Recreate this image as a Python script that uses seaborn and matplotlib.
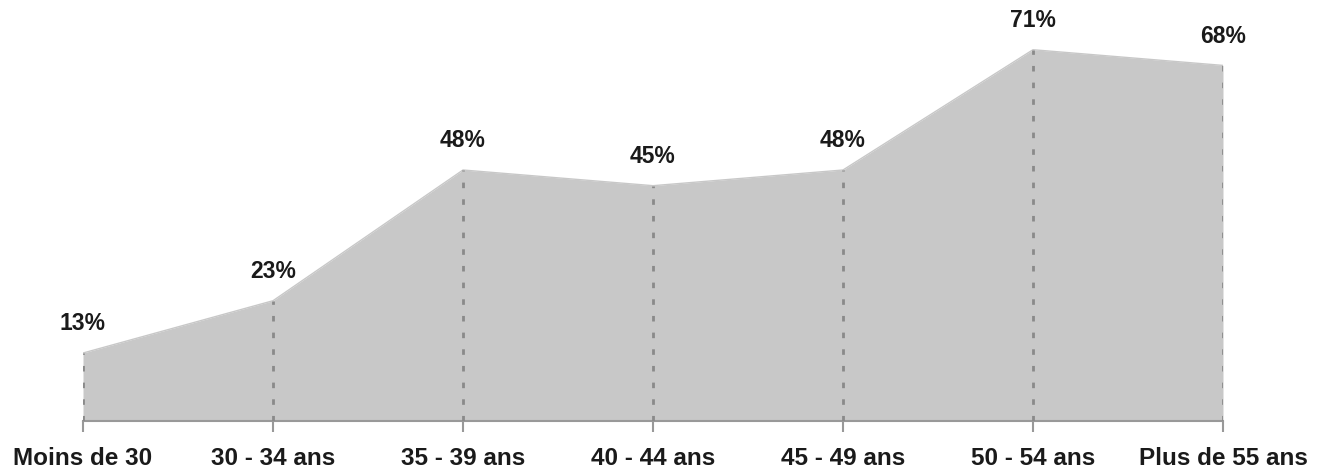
import pandas as pd
import seaborn as sns
import matplotlib.pyplot as plt

categories = ['Moins de 30', '30 - 34 ans', '35 - 39 ans', '40 - 44 ans',
              '45 - 49 ans', '50 - 54 ans', 'Plus de 55 ans']
values = [13, 23, 48, 45, 48, 71, 68]
labels = ['13%', '23%', '48%', '45%', '48%', '71%', '68%']

df = pd.DataFrame({'pos': range(len(categories)), 'val': values})

sns.set_style('white')
plt.rcParams['font.family'] = ['Liberation Sans', 'DejaVu Sans']

fig = plt.figure(figsize=(13.27, 4.77), dpi=100)
ax = fig.add_axes([83 / 1327, 55 / 477, 1140 / 1327, 422 / 477])

# zone grise
ax.fill_between(df['pos'], df['val'], 0, color='#c8c8c8', linewidth=0, zorder=1)
sns.lineplot(x='pos', y='val', data=df, color='#c8c8c8', linewidth=1, ax=ax, zorder=2)

# pointillés verticaux
ax.vlines(df['pos'], 0, df['val'], colors='#8a8a8a', linestyles=(0, (2, 4)),
          linewidth=2, zorder=3)

for x, y, t in zip(df['pos'], df['val'], labels):
    ax.text(x, y + 3.6, t, ha='center', va='bottom', fontsize=16.5,
            fontweight='bold', color='#1a1a1a')

ax.set_xlim(0, len(categories) - 1)
ax.set_ylim(0, 80.7)
ax.set_xticks(df['pos'])
ax.set_xticklabels(categories, fontsize=17.5, fontweight='bold', color='#1a1a1a')
ax.set_yticks([])
ax.set_xlabel('')
ax.set_ylabel('')
for s in ['top', 'right', 'left']:
    ax.spines[s].set_visible(False)
ax.spines['bottom'].set_color('#999999')
ax.spines['bottom'].set_linewidth(1.5)
ax.tick_params(axis='x', direction='out', length=8, width=1.5, color='#999999',
               pad=10, bottom=True)

plt.savefig('out.png', dpi=100)
plt.close()
